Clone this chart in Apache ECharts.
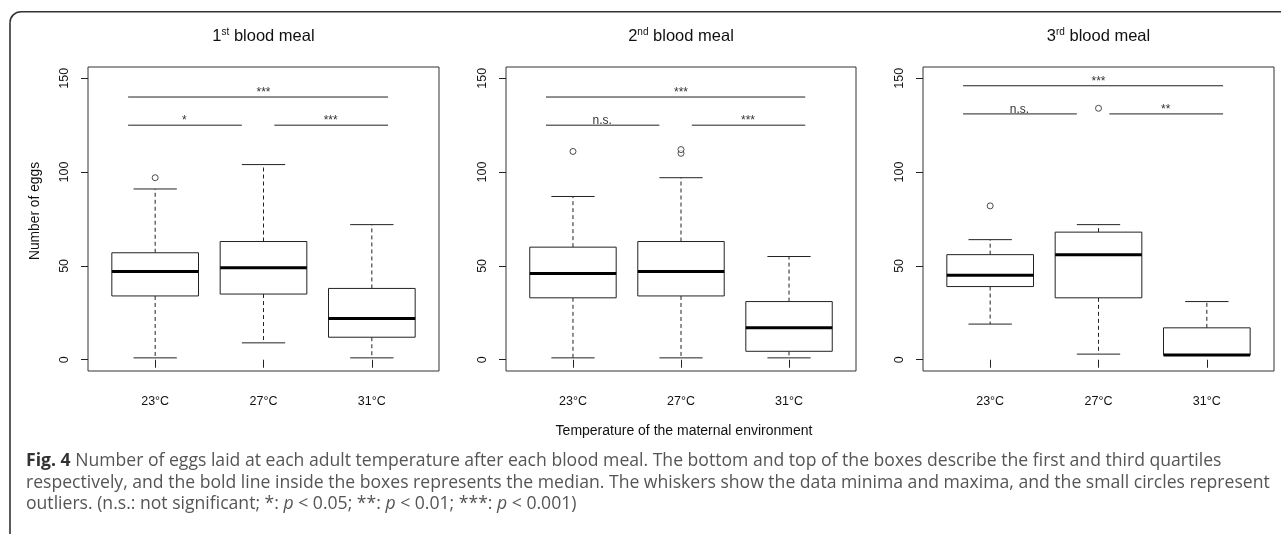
<!DOCTYPE html>
<html><head><meta charset="utf-8">
<script src="https://cdn.jsdelivr.net/npm/echarts@6/dist/echarts.min.js"></script>
<style>html,body{margin:0;padding:0;background:#fff}#c{width:1281px;height:534px}</style>
</head><body><div id="c"></div>
<script>
// ---- data ----
const categories = ['23°C', '27°C', '31°C'];
const yTicks = [0, 50, 100, 150];
const panelTitles = [['1', 'st'], ['2', 'nd'], ['3', 'rd']];
// five-number summaries per temperature: [min, q1, median, q3, max]
const meal1Boxes = [[1, 34, 47, 57, 91], [9, 35, 49, 63, 104], [1, 12, 22, 38, 72]];
const meal2Boxes = [[1, 33, 46, 60, 87], [1, 34, 47, 63, 97], [1, 4.5, 17, 31, 55]];
const meal3Boxes = [[19, 39, 45, 56, 64], [3, 33, 56, 68, 72], [2.5, 2.5, 2.5, 17, 31]];
// outliers: [temperature index (1-based), eggs]
const meal1Outliers = [[1, 97]];
const meal2Outliers = [[1, 111], [2, 110], [2, 112]];
const meal3Outliers = [[1, 82], [2, 134]];
// significance bars: [from, to, height, label position]
const meal1Sig = [[0.75, 3.15, 140, 2], [0.75, 1.8, 125, 1.27], [2.1, 3.15, 125, 2.62]];
const meal2Sig = [[0.75, 3.15, 140, 2], [0.75, 1.8, 125, 1.27], [2.1, 3.15, 125, 2.62]];
const meal3Sig = [[0.75, 3.15, 146, 2], [0.75, 1.8, 131, 1.27], [2.1, 3.15, 131, 2.62]];
const meal1SigLabels = ['***', '*', '***'];
const meal2SigLabels = ['***', 'n.s.', '***'];
const meal3SigLabels = ['***', 'n.s.', '**'];

const boxes = [meal1Boxes, meal2Boxes, meal3Boxes];
const outliers = [meal1Outliers, meal2Outliers, meal3Outliers];
const sigs = [meal1Sig, meal2Sig, meal3Sig];
const sigLabels = [meal1SigLabels, meal2SigLabels, meal3SigLabels];

// ---- layout ----
const FONT = '"Liberation Sans", Arial, Helvetica, sans-serif';
const INK = '#222';
const grids = [
  { left: 88, top: 67, width: 351, height: 304 },
  { left: 506, top: 67, width: 350, height: 304 },
  { left: 923, top: 67, width: 351, height: 304 }
];

function renderBox(params, api) {
  const x = api.value(0);
  const mn = api.value(1), q1 = api.value(2), md = api.value(3), q3 = api.value(4), mx = api.value(5);
  const yv = v => api.coord([x, v])[1];
  const cx = api.coord([x, 0])[0];
  const bl = api.coord([x - 0.4, 0])[0], br = api.coord([x + 0.4, 0])[0];
  const cl = api.coord([x - 0.2, 0])[0], cr = api.coord([x + 0.2, 0])[0];
  const dash = { stroke: INK, lineWidth: 1, lineDash: [4, 3] };
  const solid = { stroke: INK, lineWidth: 1 };
  return {
    type: 'group', children: [
      { type: 'line', shape: { x1: cx, y1: yv(q3), x2: cx, y2: yv(mx) }, style: dash },
      { type: 'line', shape: { x1: cx, y1: yv(q1), x2: cx, y2: yv(mn) }, style: dash },
      { type: 'line', shape: { x1: cl, y1: yv(mx), x2: cr, y2: yv(mx) }, style: solid },
      { type: 'line', shape: { x1: cl, y1: yv(mn), x2: cr, y2: yv(mn) }, style: solid },
      { type: 'rect', shape: { x: bl, y: yv(q3), width: br - bl, height: yv(q1) - yv(q3) },
        style: { fill: '#fff', stroke: INK, lineWidth: 1 } },
      { type: 'line', shape: { x1: bl, y1: yv(md), x2: br, y2: yv(md) }, style: { stroke: '#000', lineWidth: 3 } }
    ]
  };
}

function makeSigRender(labels) {
  return function (params, api) {
    const p1 = api.coord([api.value(0), api.value(2)]);
    const p2 = api.coord([api.value(1), api.value(2)]);
    const pl = api.coord([api.value(3), api.value(2)]);
    return {
      type: 'group', children: [
        { type: 'line', shape: { x1: p1[0], y1: p1[1], x2: p2[0], y2: p2[1] }, style: { stroke: INK, lineWidth: 1 } },
        { type: 'text', x: pl[0], y: pl[1] + 1.5,
          style: { text: labels[params.dataIndex], align: 'center', verticalAlign: 'bottom', fontSize: 12, fontFamily: FONT, fill: '#333' } }
      ]
    };
  };
}

const xAxes = [], yAxes = [], series = [], graphics = [];
for (let i = 0; i < 3; i++) {
  xAxes.push({
    type: 'value', gridIndex: i, min: 0.38, max: 3.62,
    axisLine: { show: false }, splitLine: { show: false },
    axisTick: { show: true, customValues: [1, 2, 3], length: 8, lineStyle: { color: INK } },
    axisLabel: { customValues: [1, 2, 3], formatter: v => categories[Math.round(v) - 1], margin: 24,
      fontSize: 12.5, fontFamily: FONT, color: '#111' }
  });
  yAxes.push({
    type: 'value', gridIndex: i, min: -6, max: 156,
    axisLine: { show: false }, splitLine: { show: false },
    axisTick: { show: true, customValues: yTicks, length: 7, lineStyle: { color: INK } },
    axisLabel: { customValues: yTicks, rotate: 90, margin: 17, fontSize: 12.5, fontFamily: FONT, color: '#111' }
  });
  series.push({
    type: 'custom', xAxisIndex: i, yAxisIndex: i, renderItem: renderBox, silent: true,
    data: boxes[i].map((b, k) => [k + 1].concat(b)), encode: { x: 0, y: [1, 2, 3, 4, 5] }
  });
  series.push({
    type: 'scatter', xAxisIndex: i, yAxisIndex: i, silent: true, symbol: 'circle', symbolSize: 6,
    itemStyle: { color: '#fff', borderColor: INK, borderWidth: 1 }, data: outliers[i]
  });
  series.push({
    type: 'custom', xAxisIndex: i, yAxisIndex: i, renderItem: makeSigRender(sigLabels[i]), silent: true,
    data: sigs[i], encode: { x: [0, 1, 3], y: 2 }
  });
  const g = grids[i];
  graphics.push({
    type: 'text', x: g.left + g.width / 2, y: 36,
    style: {
      text: '{n|' + panelTitles[i][0] + '}{s|' + panelTitles[i][1] + '}{n| blood meal}',
      align: 'center', verticalAlign: 'middle', fill: '#111',
      rich: {
        n: { fontSize: 16.5, fontFamily: FONT, fill: '#111' },
        s: { fontSize: 10, fontFamily: FONT, fill: '#111', verticalAlign: 'top' }
      }
    }
  });
}

graphics.push({
  type: 'text', x: 35, y: 211, rotation: Math.PI / 2,
  style: { text: 'Number of eggs', align: 'center', verticalAlign: 'middle', fontSize: 13.8, fontFamily: FONT, fill: '#111' }
});
graphics.push({
  type: 'text', x: 684, y: 431,
  style: { text: 'Temperature of the maternal environment', align: 'center', verticalAlign: 'middle', fontSize: 14, fontFamily: FONT, fill: '#111' }
});
// outer frame
const frameStyle = { stroke: '#333', lineWidth: 1.6, fill: null };
graphics.push({ type: 'line', silent: true, shape: { x1: 21, y1: 11.7, x2: 1281, y2: 11.7 }, style: frameStyle });
graphics.push({ type: 'line', silent: true, shape: { x1: 10, y1: 22.7, x2: 10, y2: 534 }, style: frameStyle });
graphics.push({ type: 'arc', silent: true, shape: { cx: 21, cy: 22.7, r: 11, startAngle: Math.PI, endAngle: Math.PI * 1.5, clockwise: true }, style: frameStyle });
// caption
const CAP = '"Open Sans", "Noto Sans", sans-serif';
const CS = 17.6;
const capRich = {
  b: { fontFamily: CAP, fontSize: CS, fontWeight: 'bold', fill: '#333' },
  t: { fontFamily: CAP, fontSize: CS, fill: '#555' },
  i: { fontFamily: CAP, fontSize: CS, fontStyle: 'italic', fill: '#555' }
};
const captionLines = [
  '{b|Fig. 4}{t| Number of eggs laid at each adult temperature after each blood meal. The bottom and top of the boxes describe the first and third quartiles}',
  '{t|respectively, and the bold line inside the boxes represents the median. The whiskers show the data minima and maxima, and the small circles represent}',
  '{t|outliers. (n.s.: not significant; *: }{i|p}{t| < 0.05; **: }{i|p}{t| < 0.01; ***: }{i|p}{t| < 0.001)}'
];
const capBase = [461, 482.5, 504.2];
captionLines.forEach((t, k) => graphics.push({
  type: 'text', x: 26, y: capBase[k],
  style: { text: t, rich: capRich, align: 'left', verticalAlign: 'middle' }
}));

const chart = echarts.init(document.getElementById('c'), null, { renderer: 'canvas' });
chart.setOption({
  animation: false,
  backgroundColor: '#fff',
  grid: grids.map(g => Object.assign({ show: true, borderColor: '#333', borderWidth: 1, backgroundColor: 'transparent' }, g)),
  xAxis: xAxes, yAxis: yAxes, series: series, graphic: graphics
});
</script></body></html>
